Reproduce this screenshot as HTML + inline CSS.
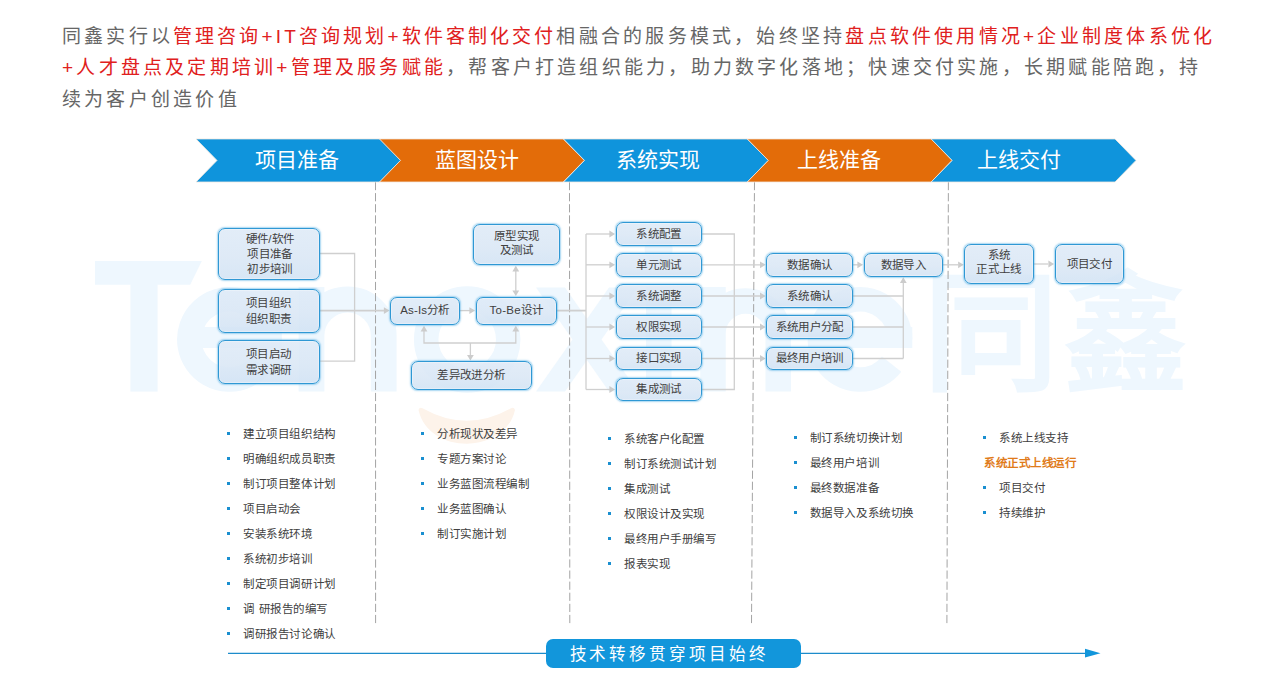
<!DOCTYPE html>
<html lang="zh-CN">
<head>
<meta charset="utf-8">
<title>同鑫服务模式</title>
<style>
html,body{margin:0;padding:0;background:#fff;}
body{width:1278px;height:684px;position:relative;overflow:hidden;font-family:"Liberation Sans",sans-serif;color:#404040;}
#bg{position:absolute;left:0;top:0;}
.intro{position:absolute;left:62px;top:22px;width:1200px;font-size:19px;line-height:31px;letter-spacing:3.22px;color:#666;font-weight:300;white-space:nowrap;}
.intro b{font-weight:300;color:#e02020;}
.ph{position:absolute;top:144px;height:32px;line-height:32px;width:160px;text-align:center;color:#fff;font-size:21px;white-space:nowrap;}
.bx{position:absolute;box-sizing:border-box;padding-top:1px;border:1.5px solid #2f98d4;border-radius:7px;background:linear-gradient(180deg,rgba(222,234,247,.88) 0%,rgba(218,231,245,.88) 55%,rgba(210,227,244,.88) 100%);box-shadow:0 0 1.5px 0.4px rgba(60,165,225,.45), inset 0 0 1px 0.5px rgba(255,255,255,.6);color:#404040;font-size:11.5px;letter-spacing:0.3px;line-height:15.3px;display:flex;align-items:center;justify-content:center;text-align:center;white-space:nowrap;}
.li{position:absolute;font-size:11.5px;letter-spacing:0.55px;line-height:16px;height:16px;color:#404040;white-space:nowrap;}
.li i{position:absolute;left:-16px;top:6px;width:3px;height:3px;background:#1a8fd0;}
.li.o{color:#e07b1a;font-weight:bold;}
.bar{position:absolute;left:546px;top:639px;width:255px;height:29px;border-radius:7px;background:#1296db;color:#fff;font-size:16.6px;line-height:31px;letter-spacing:2.95px;text-align:left;box-sizing:border-box;padding-left:23.5px;white-space:nowrap;font-weight:300;}
</style>
</head>
<body>
<svg id="bg" width="1278" height="684" viewBox="0 0 1278 684">
<g fill="#eef7fe" stroke="none">
<polygon points="95,261 201.8,261 190.2,284.8 95,284.8"/>
<rect x="130.4" y="284" width="27.2" height="107.6"/>
<polygon points="536,287.4 565,287.4 638,391.5 609,391.5"/>
<polygon points="609,287.4 638,287.4 565,391.5 536,391.5"/>
<rect x="646" y="287" width="25.5" height="104.5"/>
<circle cx="658.6" cy="249.5" r="14"/>
</g>
<g fill="none" stroke="#eef7fe" stroke-width="24.5">
<path d="M269.5,339.4 A40.1,40.1 0 1 0 261.0,364.1"/><path d="M189.3,337.6 H281.7" stroke-width="21"/>
<path d="M311.5,391.5 V287 M311.5,335.6 A36.1,36.1 0 0 1 383.7,335.6 V391.5" stroke-width="25.8"/>
<circle cx="467.2" cy="339.6" r="41"/>
<path d="M713,391.5 V287 M713,333.5 A32.6,32.6 0 0 1 778.2,333.5 V391.5" stroke-width="25.5"/>
<path d="M900.1,339.4 A40.1,40.1 0 1 0 891.6,364.1"/><path d="M819.9,337.6 H912.3" stroke-width="21"/>
</g>
<path d="M418.5,410 Q419.5,406.5 423,408.5 Q466.8,433 510.5,408.5 Q514,406.5 515,410 C505,455 428.5,455 418.5,410 Z" fill="#fdf3ea"/>
<text x="0" y="0" transform="translate(923.1,379) scale(1.045,1)" font-family="'Liberation Sans',sans-serif" font-weight="bold" font-size="130" fill="#eef7fe">同</text>
<text x="0" y="0" transform="translate(1063.5,379.5) scale(0.95,1)" font-family="'Liberation Sans',sans-serif" font-weight="bold" font-size="130" fill="#eef7fe">鑫</text>
<line x1="375.5" y1="182" x2="375.6" y2="624" stroke="#a4a4a4" stroke-width="1" stroke-dasharray="8.2,2.9"/>
<line x1="569.5" y1="182" x2="569.8" y2="624" stroke="#a4a4a4" stroke-width="1" stroke-dasharray="8.2,2.9"/>
<line x1="754.5" y1="182" x2="751.5" y2="624" stroke="#a4a4a4" stroke-width="1" stroke-dasharray="8.2,2.9"/>
<line x1="948.4" y1="182" x2="946.9" y2="624" stroke="#a4a4a4" stroke-width="1" stroke-dasharray="8.2,2.9"/>
<path d="M319,253.5 L354.6,253.5 L354.6,361.2 L319,361.2" fill="none" stroke="#cfcfcf" stroke-width="1.3"/>
<path d="M319,310.6 L384,310.6" fill="none" stroke="#cfcfcf" stroke-width="1.8"/>
<polygon points="389.5,310.6 383.9,307.20000000000005 383.9,314.0" fill="#cccccc"/>
<path d="M459,310.6 L470,310.6" fill="none" stroke="#cfcfcf" stroke-width="1.3"/>
<polygon points="475.0,310.6 469.4,307.20000000000005 469.4,314.0" fill="#cccccc"/>
<path d="M515.8,271 L515.8,291" fill="none" stroke="#cfcfcf" stroke-width="1.3"/>
<polygon points="515.8,265.8 512.4,271.4 519.1999999999999,271.4" fill="#cccccc"/>
<polygon points="515.8,296.0 512.4,290.4 519.1999999999999,290.4" fill="#cccccc"/>
<path d="M424,331 L424,343 L515.8,343 L515.8,331" fill="none" stroke="#cfcfcf" stroke-width="1.3"/>
<polygon points="424.0,325.8 420.6,331.4 427.4,331.4" fill="#cccccc"/>
<polygon points="515.8,325.8 512.4,331.4 519.1999999999999,331.4" fill="#cccccc"/>
<path d="M470.4,343 L470.4,355" fill="none" stroke="#cfcfcf" stroke-width="1.3"/>
<polygon points="470.4,360.6 467.0,355.0 473.79999999999995,355.0" fill="#cccccc"/>
<path d="M556.8,310.6 L586,310.6" fill="none" stroke="#cfcfcf" stroke-width="1.8"/>
<path d="M586,234 L586,389.5" fill="none" stroke="#cfcfcf" stroke-width="1.3"/>
<path d="M586,234 L610,234" fill="none" stroke="#cfcfcf" stroke-width="1.3"/>
<polygon points="615.0,234.0 609.4,230.6 609.4,237.4" fill="#cccccc"/>
<path d="M586,264.8 L610,264.8" fill="none" stroke="#cfcfcf" stroke-width="1.3"/>
<polygon points="615.0,264.8 609.4,261.40000000000003 609.4,268.2" fill="#cccccc"/>
<path d="M586,296 L610,296" fill="none" stroke="#cfcfcf" stroke-width="1.3"/>
<polygon points="615.0,296.0 609.4,292.6 609.4,299.4" fill="#cccccc"/>
<path d="M586,327 L610,327" fill="none" stroke="#cfcfcf" stroke-width="1.3"/>
<polygon points="615.0,327.0 609.4,323.6 609.4,330.4" fill="#cccccc"/>
<path d="M586,358.5 L610,358.5" fill="none" stroke="#cfcfcf" stroke-width="1.3"/>
<polygon points="615.0,358.5 609.4,355.1 609.4,361.9" fill="#cccccc"/>
<path d="M586,389.5 L610,389.5" fill="none" stroke="#cfcfcf" stroke-width="1.3"/>
<polygon points="615.0,389.5 609.4,386.1 609.4,392.9" fill="#cccccc"/>
<path d="M702,234 L734.3,234 L734.3,389.5 L702,389.5" fill="none" stroke="#cfcfcf" stroke-width="1.3"/>
<path d="M702,264.8 L760,264.8" fill="none" stroke="#cfcfcf" stroke-width="1.3"/>
<polygon points="765.6,264.8 760.0,261.40000000000003 760.0,268.2" fill="#cccccc"/>
<path d="M702,296 L760,296" fill="none" stroke="#cfcfcf" stroke-width="1.3"/>
<polygon points="765.6,296.0 760.0,292.6 760.0,299.4" fill="#cccccc"/>
<path d="M702,327 L760,327" fill="none" stroke="#cfcfcf" stroke-width="1.3"/>
<polygon points="765.6,327.0 760.0,323.6 760.0,330.4" fill="#cccccc"/>
<path d="M702,358.5 L760,358.5" fill="none" stroke="#cfcfcf" stroke-width="1.3"/>
<polygon points="765.6,358.5 760.0,355.1 760.0,361.9" fill="#cccccc"/>
<path d="M853,264.8 L858,264.8" fill="none" stroke="#cfcfcf" stroke-width="1.3"/>
<polygon points="863.0,264.8 857.4,261.40000000000003 857.4,268.2" fill="#cccccc"/>
<path d="M853,296 L903.3,296" fill="none" stroke="#cfcfcf" stroke-width="1.3"/>
<path d="M853,327 L903.3,327" fill="none" stroke="#cfcfcf" stroke-width="1.3"/>
<path d="M853,358.5 L903.3,358.5" fill="none" stroke="#cfcfcf" stroke-width="1.3"/>
<path d="M903.3,358.5 L903.3,283" fill="none" stroke="#cfcfcf" stroke-width="1.3"/>
<polygon points="903.3,277.3 899.9,282.9 906.6999999999999,282.9" fill="#cccccc"/>
<path d="M943,264.8 L958,264.8" fill="none" stroke="#cfcfcf" stroke-width="1.3"/>
<polygon points="963.7,264.8 958.1,261.40000000000003 958.1,268.2" fill="#cccccc"/>
<path d="M1033,264 L1048,264" fill="none" stroke="#cfcfcf" stroke-width="1.3"/>
<polygon points="1054.0,264.0 1048.4,260.6 1048.4,267.4" fill="#cccccc"/>
<line x1="228" y1="653.4" x2="1088" y2="653.4" stroke="#1c8ccb" stroke-width="1.2"/>
<polygon points="1100.5,653.2 1085,648.8 1085,657.6" fill="#1296db"/>
<path d="M196,138.95 L379.8,138.95 L400.8,160.4 L379.8,182.0 L196,182.0 L217,160.4 Z" fill="#0f94dc" stroke="#f3e9df" stroke-width="0.8" stroke-linejoin="miter"/>
<path d="M379.5,138.95 L563.3,138.95 L584.3,160.4 L563.3,182.0 L379.5,182.0 L400.5,160.4 Z" fill="#e36c09" stroke="#f3e9df" stroke-width="0.8" stroke-linejoin="miter"/>
<path d="M563.5,138.95 L747.3,138.95 L768.3,160.4 L747.3,182.0 L563.5,182.0 L584.5,160.4 Z" fill="#0f94dc" stroke="#f3e9df" stroke-width="0.8" stroke-linejoin="miter"/>
<path d="M747.3,138.95 L931.0999999999999,138.95 L952.0999999999999,160.4 L931.0999999999999,182.0 L747.3,182.0 L768.3,160.4 Z" fill="#e36c09" stroke="#f3e9df" stroke-width="0.8" stroke-linejoin="miter"/>
<path d="M931.2,138.95 L1115.0,138.95 L1136.0,160.4 L1115.0,182.0 L931.2,182.0 L952.2,160.4 Z" fill="#0f94dc" stroke="#f3e9df" stroke-width="0.8" stroke-linejoin="miter"/>
</svg>
<div class="intro" style="top:21px">同鑫实行以<b style="letter-spacing:3.12px">管理咨询+IT咨询规划+软件客制化交付</b>相融合的服务模式，始终坚持<b>盘点软件使用情况+企业制度体系优化</b></div>
<div class="intro" style="top:52px"><b>+人才盘点及定期培训+管理及服务赋能</b>，帮客户打造组织能力，助力数字化落地；快速交付实施，长期赋能陪跑，持</div>
<div class="intro" style="top:84px">续为客户创造价值</div>
<div class="ph" style="left:217.39999999999998px">项目准备</div>
<div class="ph" style="left:397.3px">蓝图设计</div>
<div class="ph" style="left:577.7px">系统实现</div>
<div class="ph" style="left:759px">上线准备</div>
<div class="ph" style="left:939px">上线交付</div>
<div class="bx" style="left:217.6px;top:228px;width:102.1px;height:52.4px;padding-left:2.6px;">硬件/软件<br>项目准备<br>初步培训</div>
<div class="bx" style="left:217.6px;top:289.1px;width:102.1px;height:44.1px;">项目组织<br>组织职责</div>
<div class="bx" style="left:217.6px;top:340.1px;width:102.1px;height:44.1px;">项目启动<br>需求调研</div>
<div class="bx" style="left:390.1px;top:296.6px;width:69.5px;height:28.6px;letter-spacing:0.15px;padding-top:0;">As-Is分析</div>
<div class="bx" style="left:475.6px;top:296.6px;width:81.8px;height:28.6px;letter-spacing:0.3px;padding-top:0;">To-Be设计</div>
<div class="bx" style="left:473.1px;top:223.6px;width:87.3px;height:41.4px;line-height:14px;padding:0 0 2px 0;">原型实现<br>及测试</div>
<div class="bx" style="left:410.6px;top:361.3px;width:121.4px;height:28.6px;">差异改进分析</div>
<div class="bx" style="left:615.6px;top:222.1px;width:86.8px;height:23.8px;">系统配置</div>
<div class="bx" style="left:615.6px;top:252.9px;width:86.8px;height:23.8px;">单元测试</div>
<div class="bx" style="left:615.6px;top:284.1px;width:86.8px;height:23.8px;">系统调整</div>
<div class="bx" style="left:615.6px;top:315.1px;width:86.8px;height:23.8px;">权限实现</div>
<div class="bx" style="left:615.6px;top:346.6px;width:86.8px;height:23.8px;">接口实现</div>
<div class="bx" style="left:615.6px;top:377.6px;width:86.8px;height:23.8px;">集成测试</div>
<div class="bx" style="left:766.2px;top:252.9px;width:87.2px;height:23.8px;">数据确认</div>
<div class="bx" style="left:766.2px;top:284.1px;width:87.2px;height:23.8px;">系统确认</div>
<div class="bx" style="left:766.2px;top:315.1px;width:87.2px;height:23.8px;">系统用户分配</div>
<div class="bx" style="left:766.2px;top:346.6px;width:87.2px;height:23.8px;">最终用户培训</div>
<div class="bx" style="left:863.6px;top:252.9px;width:79.8px;height:23.8px;">数据导入</div>
<div class="bx" style="left:964.3px;top:243.8px;width:69.4px;height:40.2px;line-height:14px;padding:0 0 3px 0;">系统<br>正式上线</div>
<div class="bx" style="left:1054.6px;top:243.8px;width:69.4px;height:40.2px;">项目交付</div>
<div class="li" style="left:243.3px;top:426px"><i></i>建立项目组织结构</div>
<div class="li" style="left:243.3px;top:451px"><i></i>明确组织成员职责</div>
<div class="li" style="left:243.3px;top:476px"><i></i>制订项目整体计划</div>
<div class="li" style="left:243.3px;top:501px"><i></i>项目启动会</div>
<div class="li" style="left:243.3px;top:526px"><i></i>安装系统环境</div>
<div class="li" style="left:243.3px;top:551px"><i></i>系统初步培训</div>
<div class="li" style="left:243.3px;top:576px"><i></i>制定项目调研计划</div>
<div class="li" style="left:243.3px;top:601px"><i></i>调 研报告的编写</div>
<div class="li" style="left:243.3px;top:626px"><i></i>调研报告讨论确认</div>
<div class="li" style="left:437px;top:426px"><i></i>分析现状及差异</div>
<div class="li" style="left:437px;top:451px"><i></i>专题方案讨论</div>
<div class="li" style="left:437px;top:476px"><i></i>业务蓝图流程编制</div>
<div class="li" style="left:437px;top:501px"><i></i>业务蓝图确认</div>
<div class="li" style="left:437px;top:526px"><i></i>制订实施计划</div>
<div class="li" style="left:624px;top:431px"><i></i>系统客户化配置</div>
<div class="li" style="left:624px;top:456px"><i></i>制订系统测试计划</div>
<div class="li" style="left:624px;top:481px"><i></i>集成测试</div>
<div class="li" style="left:624px;top:506px"><i></i>权限设计及实现</div>
<div class="li" style="left:624px;top:531px"><i></i>最终用户手册编写</div>
<div class="li" style="left:624px;top:556px"><i></i>报表实现</div>
<div class="li" style="left:809.8px;top:430px"><i></i>制订系统切换计划</div>
<div class="li" style="left:809.8px;top:455px"><i></i>最终用户培训</div>
<div class="li" style="left:809.8px;top:480px"><i></i>最终数据准备</div>
<div class="li" style="left:809.8px;top:505px"><i></i>数据导入及系统切换</div>
<div class="li" style="left:999.3px;top:430px"><i></i>系统上线支持</div>
<div class="li o" style="left:984px;top:455px">系统正式上线运行</div>
<div class="li" style="left:999.3px;top:480px"><i></i>项目交付</div>
<div class="li" style="left:999.3px;top:505px"><i></i>持续维护</div>
<div class="bar">技术转移贯穿项目始终</div>
</body>
</html>
